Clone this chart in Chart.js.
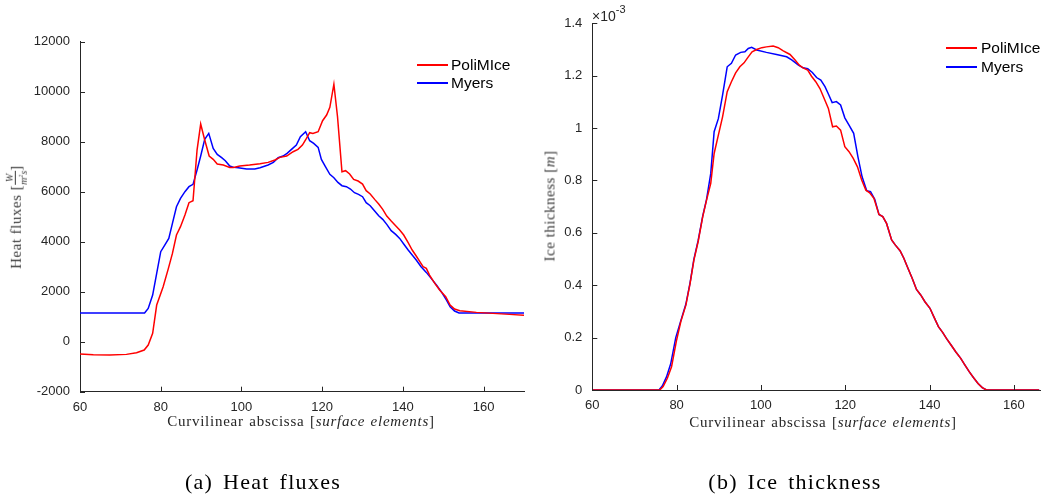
<!DOCTYPE html>
<html>
<head>
<meta charset="utf-8">
<script src="https://cdn.jsdelivr.net/npm/chart.js@4.4.1/dist/chart.umd.min.js"></script>
<style>
  html,body{margin:0;padding:0;background:#fff;}
  #wrap{position:relative;width:1041px;height:499px;overflow:hidden;background:#fff;}
  canvas{position:absolute;left:0;top:0;}
  .t{position:absolute;white-space:nowrap;color:#262626;}
  .serif{font-family:"Liberation Serif","DejaVu Serif",serif;}
  .sans{font-family:"Liberation Sans",Arial,sans-serif;}
  .xt{font-size:15px;letter-spacing:0.75px;word-spacing:1px;transform:translate(-50%,-50%);}
  .cap{font-size:22px;letter-spacing:1.3px;word-spacing:3px;color:#000;transform:translate(-50%,-50%);}
  .yt{font-size:15px;letter-spacing:0.5px;color:#3a3a3a;transform:translate(-50%,-50%) rotate(-90deg);}
  .frac{display:inline-block;vertical-align:middle;text-align:center;font-size:10px;font-style:italic;line-height:10px;letter-spacing:0;}
  .frac .n{display:block;border-bottom:1px solid #3a3a3a;padding:0 1px;}
  .frac .d{display:block;}
  .leg{position:absolute;font-family:"Liberation Sans",Arial,sans-serif;font-size:15.5px;color:#000;}
  .leg .sw{position:absolute;height:2px;}
  .leg .lb{position:absolute;transform:translateY(-50%);white-space:nowrap;}
</style>
</head>
<body>
<div id="wrap">
  <canvas id="c1" width="1041" height="499"></canvas>
  <canvas id="c2" width="1041" height="499"></canvas>

  <div class="t serif yt" style="left:17px;top:217px;">Heat fluxes [<span class="frac"><span class="n">W</span><span class="d">m<sup style="font-size:6px">2</sup>s</span></span>]</div>
  <div class="t serif xt" style="left:301px;top:421px;">Curvilinear abscissa [<i>surface elements</i>]</div>
  <div class="t serif cap" style="left:263px;top:482px;">(a) Heat fluxes</div>

  <div class="t serif yt" style="left:550px;top:206px;">Ice thickness [<i>m</i>]</div>
  <div class="t serif xt" style="left:823px;top:422px;">Curvilinear abscissa [<i>surface elements</i>]</div>
  <div class="t serif cap" style="left:795px;top:482px;">(b) Ice thickness</div>

  <div class="t sans" style="left:592px;top:5px;font-size:14px;">×10<sup style="font-size:11px;position:relative;top:-2px;">-3</sup></div>

  <div id="leg1" class="leg" style="left:0;top:0;"></div>
  <div id="leg2" class="leg" style="left:0;top:0;"></div>
</div>
<script>
// ---------------- DATA ----------------
const seriesNames = ["PoliMIce", "Myers"];

// (a) Heat fluxes [W/(m^2 s)]
const hfPoliX = [60,63.3,67.4,71.5,74,75.9,76.9,78,79,80.6,81.9,82.9,83.9,84.9,86,87,88,89,89.9,90.9,92,93,94,95.5,97.1,98,99.6,102,104.6,106.6,108.3,109.5,111.2,112.8,114,115.1,116.1,116.9,117.7,119,120.1,121.1,121.9,122.9,123.8,124.9,125.8,126.8,127.8,128.9,130,130.9,131.9,133,134,135,136,137.1,138.2,139.2,140.2,141.3,142.3,143.3,144.2,145,145.8,146.6,147.9,149.1,150.6,151.7,152.8,154.1,158.2,162.3,166.4,170];
const hfPoliY = [-493,-520,-533,-507,-440,-333,-133,333,1467,2200,2933,3533,4267,4600,5067,5560,5640,7667,8707,8067,7427,7293,7107,7067,6973,6973,7027,7067,7120,7173,7267,7373,7427,7600,7693,7867,8133,8360,8333,8400,8840,9067,9373,10300,9000,6800,6840,6707,6493,6427,6307,6040,5907,5693,5507,5293,5027,4827,4640,4467,4267,3960,3667,3427,3200,3000,2933,2667,2333,2067,1800,1467,1307,1240,1173,1133,1093,1060];

const hfMyersX = [60,76,76.9,78,79,80,81,82,82.9,83.9,84.9,86,87,88,89,89.9,90.9,91.9,93,94,95.1,96,97.1,98.1,99.2,101.3,103.3,104.6,106.6,107.9,109.1,110.3,111.3,112.4,113.6,114.6,115.9,116.9,117.9,119,119.8,120.8,121.9,122.9,123.9,124.9,126,127,128,129,130,130.9,131.9,133,134,135,136,137.1,138.2,139.2,140.2,141.3,142.3,143.3,144.5,145.8,147,148.3,149.5,150.8,151.7,152.8,153.9,170];
const hfMyersY = [1147,1147,1333,1867,2733,3600,3867,4133,4733,5400,5733,6000,6200,6293,6867,7427,8093,8333,7733,7493,7360,7240,7027,6973,6960,6907,6907,6960,7067,7173,7360,7427,7533,7693,7867,8200,8400,8040,7933,7773,7293,7000,6693,6560,6373,6240,6200,6107,5960,5893,5800,5560,5440,5227,5040,4893,4693,4440,4293,4133,3907,3667,3467,3267,3000,2773,2533,2267,2000,1667,1400,1227,1147,1147];

const hfXTicks = [60,80,100,120,140,160];
const hfYTicks = [-2000,0,2000,4000,6000,8000,10000,12000];

// (b) Ice thickness [m], values in units of 1e-3 m
const itPoliX = [60,76,76.8,77.8,78.8,80,81,82.2,83.2,84.1,85.1,86.2,87.1,88.1,88.9,89.9,90.9,92,93,94,95,96,97,97.9,99,100.2,101.3,102.9,104.1,105.3,106.9,108.1,109.1,110,111.1,112,113,114,115,116,117,117.9,118.9,119.9,120.9,121.9,122.9,123.9,124.9,125.8,126.8,128,128.9,129.8,131,131.9,133,133.9,134.9,135.9,136.9,137.9,138.9,140.1,141,142.1,143.1,144,145.1,146.2,147.4,148.4,149.4,150.4,151.5,152.5,153.5,166];
const itPoliY = [0,0,0.013,0.045,0.089,0.191,0.261,0.324,0.407,0.496,0.566,0.662,0.725,0.789,0.903,0.973,1.043,1.139,1.177,1.211,1.234,1.249,1.272,1.291,1.300,1.307,1.310,1.313,1.307,1.295,1.281,1.260,1.240,1.230,1.221,1.198,1.177,1.151,1.113,1.075,1.005,1.008,0.992,0.929,0.910,0.884,0.852,0.802,0.763,0.753,0.732,0.670,0.662,0.636,0.573,0.553,0.532,0.503,0.464,0.426,0.384,0.363,0.337,0.312,0.280,0.242,0.220,0.197,0.172,0.146,0.121,0.095,0.070,0.048,0.025,0.009,0,0];

const itMyersX = [60,75.8,76.6,77.6,78.6,79.8,81,82.2,83.2,84.1,85.1,86.2,87.1,88.1,88.9,89.9,90.9,92,93,94,95.2,96.2,97,97.8,99,101.3,103.7,106.1,107.3,108.9,110,111.1,112.2,113.2,114.2,115.2,116,116.9,117.9,118.9,119.9,120.9,122,123,124,125.1,126,127,128,128.9,129.8,131,131.9,133,133.9,134.9,135.9,136.9,137.9,138.9,140.1,141,142.1,143.1,144,145.1,146.2,147.4,148.4,149.4,150.4,151.5,152.5,153.5,166];
const itMyersY = [0,0,0.015,0.05,0.1,0.2,0.265,0.328,0.41,0.5,0.57,0.665,0.728,0.827,0.986,1.036,1.126,1.234,1.247,1.279,1.289,1.291,1.304,1.308,1.298,1.289,1.281,1.272,1.260,1.240,1.230,1.227,1.212,1.193,1.183,1.158,1.130,1.097,1.101,1.088,1.039,1.011,0.980,0.891,0.814,0.761,0.757,0.728,0.670,0.662,0.636,0.573,0.553,0.532,0.503,0.464,0.426,0.384,0.363,0.337,0.312,0.280,0.242,0.220,0.197,0.172,0.146,0.121,0.095,0.070,0.048,0.025,0.009,0,0];

const itXTicks = [60,80,100,120,140,160];
const itYTicks = [0,0.2,0.4,0.6,0.8,1,1.2,1.4];

// ---------------- STYLE ----------------
const RED = "rgb(255,0,0)";
const BLUE = "rgb(0,0,255)";
const AXIS = "#262626";
const tickFont = {family: "Liberation Sans, Arial, sans-serif", size: 13};

const zip = (xs, ys) => xs.map((x, i) => ({x: x, y: ys[i]}));

const inwardTicks = {
  id: "inwardTicks",
  afterDatasetsDraw(chart) {
    const {ctx, chartArea: a, scales: {x, y}} = chart;
    ctx.save();
    ctx.strokeStyle = AXIS;
    ctx.lineWidth = 1;
    ctx.beginPath();
    x.ticks.forEach(t => {
      const px = Math.round(x.getPixelForValue(t.value)) + 0.5;
      ctx.moveTo(px, a.bottom);
      ctx.lineTo(px, a.bottom - 5);
    });
    y.ticks.forEach(t => {
      const py = Math.round(y.getPixelForValue(t.value)) + 0.5;
      ctx.moveTo(a.left, py);
      ctx.lineTo(a.left + 5, py);
    });
    ctx.stroke();
    ctx.restore();
  }
};

function makeChart(id, dsA, dsB, xr, yr, xTicks, yTicks, pad, yFmt) {
  return new Chart(document.getElementById(id), {
    type: "line",
    data: {
      datasets: [
        {label: seriesNames[0], data: dsA, borderColor: RED, backgroundColor: RED, borderWidth: 1.5, pointRadius: 0, tension: 0, fill: false},
        {label: seriesNames[1], data: dsB, borderColor: BLUE, backgroundColor: BLUE, borderWidth: 1.5, pointRadius: 0, tension: 0, fill: false}
      ]
    },
    options: {
      responsive: false,
      animation: false,
      devicePixelRatio: 1,
      layout: {padding: pad},
      plugins: {legend: {display: false}, tooltip: {enabled: false}},
      scales: {
        x: {
          type: "linear", min: xr[0], max: xr[1],
          afterBuildTicks: s => { s.ticks = xTicks.map(v => ({value: v})); },
          afterFit: s => { s.height = 40; },
          grid: {display: false, drawTicks: false},
          border: {display: true, color: AXIS, width: 1},
          ticks: {padding: 8, color: AXIS, font: tickFont, maxRotation: 0, autoSkip: false}
        },
        y: {
          type: "linear", min: yr[0], max: yr[1],
          afterBuildTicks: s => { s.ticks = yTicks.map(v => ({value: v})); },
          afterFit: s => { s.width = 80; },
          grid: {display: false, drawTicks: false},
          border: {display: true, color: AXIS, width: 1},
          ticks: {padding: 10, color: AXIS, font: tickFont, autoSkip: false, callback: yFmt}
        }
      }
    },
    plugins: [inwardTicks]
  });
}

const ch1 = makeChart("c1", zip(hfPoliX, hfPoliY), zip(hfMyersX, hfMyersY), [60, 170], [-2000, 12000],
  hfXTicks, hfYTicks, {left: 0, right: 517, top: 41.7, bottom: 67.3}, v => String(v));
const ch2 = makeChart("c2", zip(itPoliX, itPoliY), zip(itMyersX, itMyersY), [60, 166.2], [0, 1.4],
  itXTicks, itYTicks, {left: 512.3, right: 1, top: 23.3, bottom: 69}, v => String(Math.round(v * 10) / 10));

// HTML legends
function legend(elId, lineX0, lineX1, textX, rowsY) {
  const el = document.getElementById(elId);
  const colors = [RED, BLUE];
  seriesNames.forEach((name, i) => {
    const sw = document.createElement("div");
    sw.className = "sw";
    sw.style.left = lineX0 + "px";
    sw.style.width = (lineX1 - lineX0) + "px";
    sw.style.top = (rowsY[i] - 1) + "px";
    sw.style.background = colors[i];
    el.appendChild(sw);
    const lb = document.createElement("div");
    lb.className = "lb";
    lb.style.left = textX + "px";
    lb.style.top = rowsY[i] + "px";
    lb.textContent = name;
    el.appendChild(lb);
  });
}
legend("leg1", 417, 448, 451, [65, 83]);
legend("leg2", 946, 977, 981, [48, 67]);
</script>
</body>
</html>
